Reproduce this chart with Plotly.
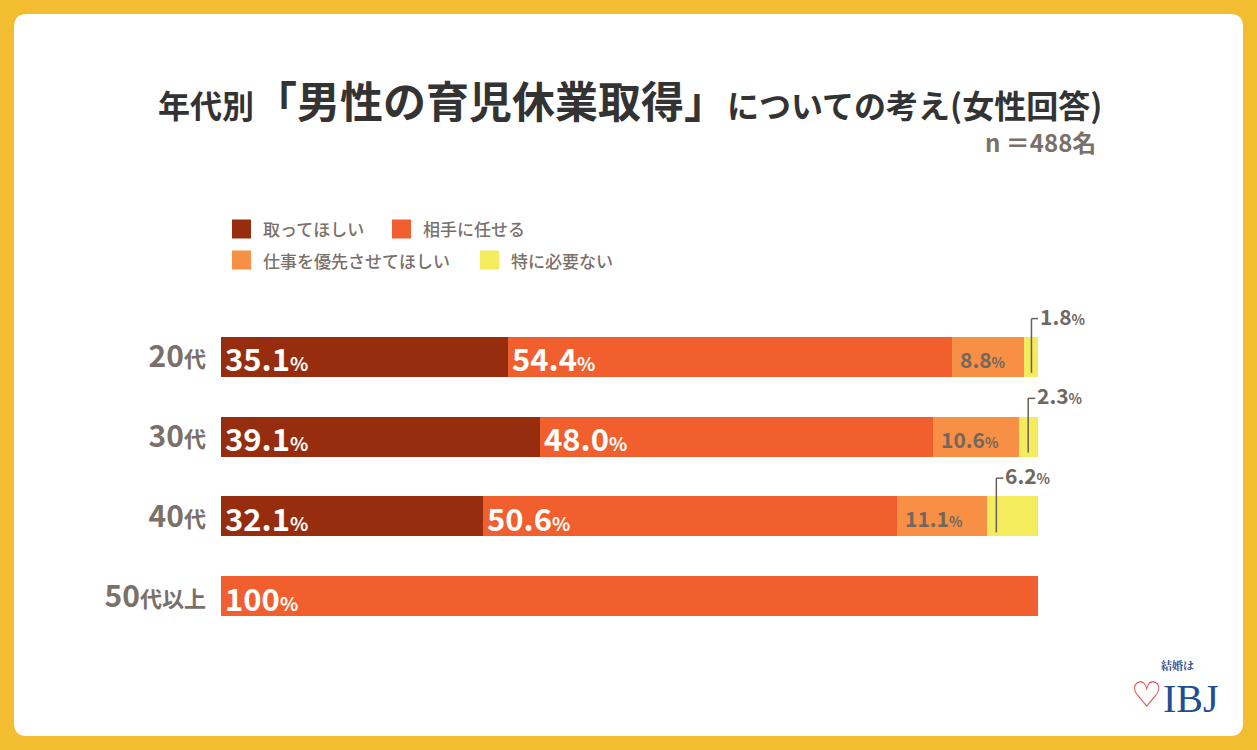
import plotly.graph_objects as go

# data
ages = ["20代", "30代", "40代", "50代以上"]
age_nums = ["20", "30", "40", "50"]
age_suffix = ["代", "代", "代", "代以上"]
series = ["取ってほしい", "相手に任せる", "仕事を優先させてほしい", "特に必要ない"]
want = [35.1, 39.1, 32.1, 0]
partner = [54.4, 48.0, 50.6, 100]
prefer_work = [8.8, 10.6, 11.1, 0]
not_needed = [1.8, 2.3, 6.2, 0]
values = [want, partner, prefer_work, not_needed]
colors = ["#962D0E", "#F15F2E", "#F78F45", "#F4EB5D"]

GREY = "#7B7069"
LABEL_GREY = "#72675F"
FONT = "Noto Sans CJK JP"

W, H = 1257, 750
L, R, T, B = 221, 219, 317, 114


def px(x):
    return (x - L) / (W - L - R)


def py(y):
    return (H - B - y) / (H - T - B)


def fmt(v):
    return "100" if v == 100 else f"{v:.1f}"


fig = go.Figure()
for name, vals, col in zip(series, values, colors):
    fig.add_trace(go.Bar(
        y=ages, x=vals, name=name, orientation="h",
        marker=dict(color=col, line=dict(width=0)),
        width=0.5, hoverinfo="skip", showlegend=False,
    ))

annotations = []
shapes = []

# white card
x0, x1, y0, y1, r = 14, 1243, 14, 736, 13
card = (f"M {px(x0 + r)},{py(y0)} L {px(x1 - r)},{py(y0)} Q {px(x1)},{py(y0)} {px(x1)},{py(y0 + r)} "
        f"L {px(x1)},{py(y1 - r)} Q {px(x1)},{py(y1)} {px(x1 - r)},{py(y1)} "
        f"L {px(x0 + r)},{py(y1)} Q {px(x0)},{py(y1)} {px(x0)},{py(y1 - r)} "
        f"L {px(x0)},{py(y0 + r)} Q {px(x0)},{py(y0)} {px(x0 + r)},{py(y0)} Z")
shapes.append(dict(type="path", path=card, xref="paper", yref="paper",
                   fillcolor="white", line=dict(width=0), layer="below"))

# segment labels
for i, age in enumerate(ages):
    start = 0
    for k, vals in enumerate(values):
        v = vals[i]
        if v <= 0:
            continue
        if k < 2:
            annotations.append(dict(
                x=start, y=i, xref="x", yref="y", xanchor="left", yanchor="middle",
                xshift=2, yshift=-1, showarrow=False,
                text=f"<b>{fmt(v)}<span style='font-size:19px'>%</span></b>",
                font=dict(family=FONT, size=31, color="white")))
        elif k == 2:
            annotations.append(dict(
                x=start, y=i, xref="x", yref="y", xanchor="left", yanchor="middle",
                xshift=6, yshift=-2, showarrow=False,
                text=f"<b>{fmt(v)}<span style='font-size:14px'>%</span></b>",
                font=dict(family=FONT, size=21, color=LABEL_GREY)))
        else:
            lx = start + min(v / 2, 1.1)
            top = i - 0.48
            shapes.append(dict(type="line", xref="x", yref="y", x0=lx, x1=lx,
                               y0=i + 0.2, y1=top, line=dict(color="#6B5F57", width=1.5)))
            shapes.append(dict(type="line", xref="x", yref="y", xsizemode="pixel", xanchor=lx,
                               x0=0, x1=7, y0=top, y1=top, line=dict(color="#6B5F57", width=1.5)))
            annotations.append(dict(
                x=lx, y=top, xref="x", yref="y", xanchor="left", yanchor="middle",
                xshift=7, yshift=3, showarrow=False,
                text=f"<b>{fmt(v)}<span style='font-size:14px'>%</span></b>",
                font=dict(family=FONT, size=21, color=LABEL_GREY)))
        start += v

# legend (manual, two rows)
legend_pos = [(232, 229), (392, 229), (232, 260), (480, 260)]
for name, col, (lx, ly) in zip(series, colors, legend_pos):
    shapes.append(dict(type="rect", xref="paper", yref="paper",
                       x0=px(lx), x1=px(lx + 19), y0=py(ly - 9.5), y1=py(ly + 9.5),
                       fillcolor=col, line=dict(width=0)))
    annotations.append(dict(x=px(lx + 29), y=py(ly), xref="paper", yref="paper",
                            xanchor="left", yanchor="middle", showarrow=False,
                            text=name, font=dict(family=FONT, size=17, color=GREY, weight=500)))

# title
annotations.append(dict(
    x=px(630), y=py(99), xref="paper", yref="paper", xanchor="center", yanchor="middle",
    showarrow=False,
    text="<b><span style='font-size:32px'>年代別</span>「男性の育児休業取得」"
         "<span style='font-size:32px'>についての考え(女性回答)</span></b>",
    font=dict(family=FONT, size=43, color="#333333")))
annotations.append(dict(
    x=px(1098), y=py(142), xref="paper", yref="paper", xanchor="right", yanchor="middle",
    showarrow=False, text="<b>n ＝488名</b>",
    font=dict(family=FONT, size=24, color=GREY)))

# logo
annotations.append(dict(
    x=px(1177), y=py(665), xref="paper", yref="paper", xanchor="center", yanchor="middle",
    showarrow=False, text="<b>結婚は</b>",
    font=dict(family="Noto Serif CJK JP, Noto Sans CJK JP", size=11, color="#1F4E96")))
annotations.append(dict(
    x=px(1146), y=py(695), xref="paper", yref="paper", xanchor="center", yanchor="middle",
    showarrow=False, text="♡",
    font=dict(family="DejaVu Sans", size=35, color="#D8343C")))
annotations.append(dict(
    x=px(1191), y=py(698), xref="paper", yref="paper", xanchor="center", yanchor="middle",
    showarrow=False, text="IBJ",
    font=dict(family="Liberation Serif", size=40, color="#1F4E96")))

ticktext = [f"<b>{n}<span style='font-size:22px'>{s}</span></b>" for n, s in zip(age_nums, age_suffix)]

fig.update_layout(
    width=W, height=H,
    barmode="stack",
    margin=dict(l=L, r=R, t=T, b=B),
    paper_bgcolor="#F3BD31",
    plot_bgcolor="rgba(0,0,0,0)",
    xaxis=dict(range=[0, 100], visible=False, fixedrange=True),
    yaxis=dict(type="category", categoryorder="array", categoryarray=ages,
               range=[3.5, -0.5], tickvals=ages, ticktext=ticktext,
               tickfont=dict(family=FONT, size=30, color=GREY),
               ticklabelstandoff=14, showgrid=False, zeroline=False, showline=False,
               ticks="", fixedrange=True),
    shapes=shapes,
    annotations=annotations,
    bargap=0,
)

fig.write_html("out.html", config={"displayModeBar": False},
               post_script="document.body.style.margin='0';")
